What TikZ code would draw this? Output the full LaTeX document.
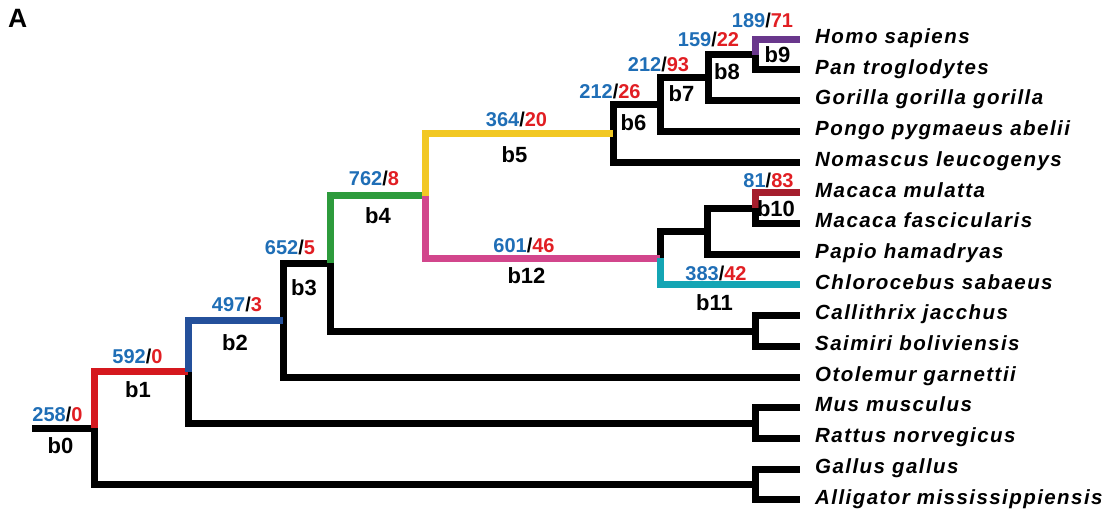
\documentclass[tikz,border=0pt]{standalone}
\usepackage{fontspec}
\setmainfont{Liberation Sans}
\newfontfamily\spfont[LetterSpace=7]{Liberation Sans}

\definecolor{nblue}{HTML}{1F6EB6}
\definecolor{nred}{HTML}{E11E23}
\definecolor{cB1}{HTML}{D5181E}
\definecolor{cB2}{HTML}{24509B}
\definecolor{cB4}{HTML}{2D9B3C}
\definecolor{cB5}{HTML}{F2C823}
\definecolor{cB9}{HTML}{69378C}
\definecolor{cB10}{HTML}{A51E2D}
\definecolor{cB11}{HTML}{14A5B4}
\definecolor{cB12}{HTML}{D2468C}

\newcommand{\cnt}[2]{\textcolor{nblue}{#1}/\textcolor{nred}{#2}}

\begin{document}
\begin{tikzpicture}[x=1pt,y=-1pt,
  br/.style={line width=7pt, line join=miter, line cap=butt},
  sp/.style={anchor=base west, inner sep=0pt,
    font=\spfont\fontsize{20.5}{24}\selectfont\bfseries\itshape},
  num/.style={anchor=base, inner sep=0pt, font=\fontsize{20}{24}\selectfont\bfseries},
  lab/.style={anchor=base, inner sep=0pt, font=\fontsize{22}{26}\selectfont\bfseries},
]
\useasboundingbox (0,0) rectangle (1114,511);

% panel letter
\node[anchor=base west, inner sep=0pt, font=\fontsize{26.5}{30}\selectfont\bfseries] (panel) at (8,28) {A};

% leaves: line end and species name
\foreach \n/\t [count=\i from 0] in {
  homo/Homo sapiens, pan/Pan troglodytes, gor/Gorilla gorilla gorilla,
  pon/Pongo pygmaeus abelii, nom/Nomascus leucogenys, mmu/Macaca mulatta,
  mfa/Macaca fascicularis, pap/Papio hamadryas, chl/Chlorocebus sabaeus,
  cal/Callithrix jacchus, sai/Saimiri boliviensis, oto/Otolemur garnettii,
  mus/Mus musculus, rat/Rattus norvegicus, gal/Gallus gallus,
  all/Alligator mississippiensis} {
  \coordinate (l\n) at (800, 39.3+30.7*\i);
  \node[sp] (t\n) at (815, 43.5+30.7*\i) {\t};
}

% internal nodes
\coordinate (root) at (32,428);
\coordinate (n1) at (94,428);
\coordinate (n2) at (188,371.6);
\coordinate (n3) at (283,320.2);
\coordinate (n4) at (330,263.3);
\coordinate (n5) at (425,195.7);
\coordinate (n6) at (613,133.3);
\coordinate (n7) at (660,104.5);
\coordinate (n8) at (708,77.7);
\coordinate (n9) at (755,54.65);
\coordinate (n11) at (660,258.0);
\coordinate (nP) at (707,231.2);
\coordinate (n10) at (755,208.15);
\coordinate (nNW) at (755,331.0);
\coordinate (nR) at (755,423.0);
\coordinate (nG) at (755,484.5);

% black branches
\draw[br] (root) -- (n1);
\draw[br] (n1) |- (nG);
\draw[br] (nG) |- (lgal);
\draw[br] (nG) |- (lall);
\draw[br] (n2) |- (nR);
\draw[br] (nR) |- (lmus);
\draw[br] (nR) |- (lrat);
\draw[br] (n3) |- (n4);
\draw[br] (n3) |- (loto);
\draw[br] (n4) |- (nNW);
\draw[br] (nNW) |- (lcal);
\draw[br] (nNW) |- (lsai);
\draw[br] (n6) |- (n7);
\draw[br] (n6) |- (lnom);
\draw[br] (n7) |- (n8);
\draw[br] (n7) |- (lpon);
\draw[br] (n8) |- (n9);
\draw[br] (n8) |- (lgor);
\draw[br] (n9) |- (lpan);
\draw[br] (n11) |- (nP);
\draw[br] (nP) |- (n10);
\draw[br] (nP) |- (lpap);
\draw[br] (n10) |- (lmfa);

% coloured branches
\draw[br, cB1] (n1) |- (n2);
\draw[br, cB2] (n2) |- (n3);
\draw[br, cB4] (n4) |- (n5);
\draw[br, cB5] (n5) |- (n6);
\draw[br, cB12] (n5) |- (n11);
\draw[br, cB11] (n11) |- (lchl);
\draw[br, cB9] (n9) |- (lhomo);
\draw[br, cB10] (n10) |- (lmmu);

% branch counts and names
\node[num] (c0) at (57.5,421) {\cnt{258}{0}};
\node[lab] (b0) at (60.5,453) {b0};
\node[num] (c1) at (137.5,363) {\cnt{592}{0}};
\node[lab] (b1) at (138,397) {b1};
\node[num] (c2) at (237,311) {\cnt{497}{3}};
\node[lab] (b2) at (235,350) {b2};
\node[num] (c3) at (290,254) {\cnt{652}{5}};
\node[lab] (b3) at (304,295) {b3};
\node[num] (c4) at (374,185) {\cnt{762}{8}};
\node[lab] (b4) at (378,223) {b4};
\node[num] (c5) at (516.5,126) {\cnt{364}{20}};
\node[lab] (b5) at (514.5,162) {b5};
\node[num] (c6) at (610,99) {\cnt{212}{26}};
\node[lab] (b6) at (633.5,130) {b6};
\node[num] (c7) at (658.5,72) {\cnt{212}{93}};
\node[lab] (b7) at (681.5,102) {b7};
\node[num] (c8) at (708.5,47) {\cnt{159}{22}};
\node[lab] (b8) at (727,80) {b8};
\node[num] (c9) at (762.5,28) {\cnt{189}{71}};
\node[lab] (b9) at (777.5,63) {b9};
\node[num] (c10) at (768.5,187) {\cnt{81}{83}};
\node[lab] (b10) at (776,216) {b10};
\node[num] (c11) at (716,280) {\cnt{383}{42}};
\node[lab] (b11) at (714.5,310) {b11};
\node[num] (c12) at (524,252) {\cnt{601}{46}};
\node[lab] (b12) at (526.5,283) {b12};
\end{tikzpicture}
\end{document}
